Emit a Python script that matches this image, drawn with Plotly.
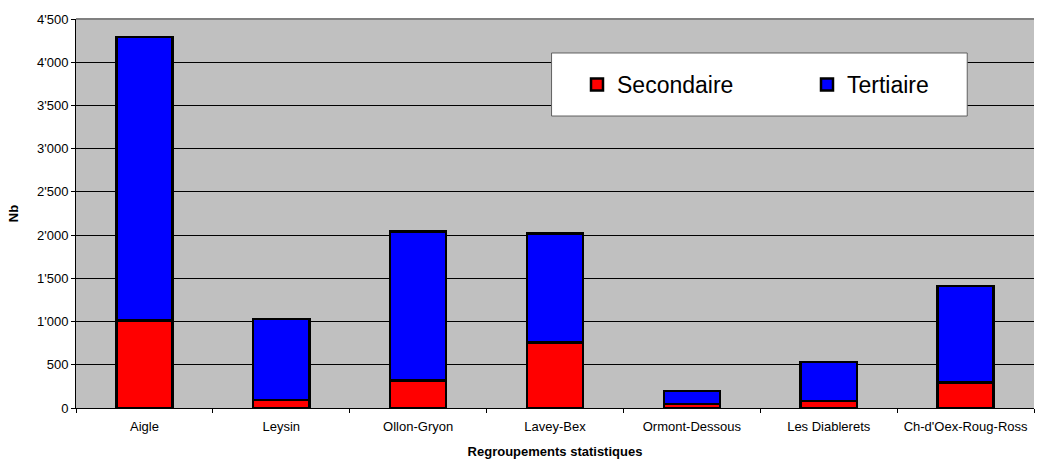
import plotly.graph_objects as go

categories = ["Aigle", "Leysin", "Ollon-Gryon", "Lavey-Bex", "Ormont-Dessous",
              "Les Diablerets", "Ch-d'Oex-Roug-Ross"]
secondaire = [1010, 90, 320, 760, 45, 80, 295]
tertiaire_total = [4290, 1030, 2040, 2020, 195, 535, 1410]
tertiaire = [t - s for t, s in zip(tertiaire_total, secondaire)]
y_ticks = [0, 500, 1000, 1500, 2000, 2500, 3000, 3500, 4000, 4500]

FONT = "Liberation Sans, Arial, sans-serif"

fig = go.Figure()
fig.add_trace(go.Bar(x=categories, y=secondaire, name="Secondaire",
                     marker=dict(color="#FF0000", line=dict(color="black", width=2.5))))
fig.add_trace(go.Bar(x=categories, y=tertiaire, name="Tertiaire",
                     marker=dict(color="#0000FF", line=dict(color="black", width=2.5))))

fig.update_layout(
    width=1037, height=459,
    margin=dict(l=76, r=0, t=19, b=51),
    barmode="stack", bargap=0.59,
    paper_bgcolor="white", plot_bgcolor="#C0C0C0",
    separators=".'",
    font=dict(family=FONT, size=13, color="black"),
    showlegend=True,
    legend=dict(orientation="h", x=0.523, xanchor="left", y=0.8316, yanchor="middle",
                bgcolor="rgba(0,0,0,0)", borderwidth=0,
                font=dict(size=23, family=FONT), entrywidth=185, entrywidthmode="pixels",
                traceorder="normal"),
    xaxis=dict(type="category", showline=True, linecolor="black", linewidth=1,
               ticks="outside", tickson="boundaries", ticklen=4, tickcolor="black",
               showgrid=False, ticklabelstandoff=6,
               title=dict(text="<b>Regroupements statistiques</b>", font=dict(size=13), standoff=15),
               tickfont=dict(size=13)),
    yaxis=dict(range=[0, 4500], tickvals=y_ticks, tickformat=",d",
               showline=True, linecolor="black", linewidth=1,
               ticks="outside", ticklen=4, tickcolor="black",
               showgrid=True, gridcolor="black", gridwidth=1, zeroline=False,
               title=dict(text="<b>Nb</b>", font=dict(size=13), standoff=15),
               tickfont=dict(size=13)),
    shapes=[
        dict(type="rect", xref="paper", yref="paper", x0=0.4964, x1=0.9303, y0=0.7506, y1=0.9126,
             fillcolor="white", line=dict(color="#606060", width=1), layer="above"),
        dict(type="line", xref="paper", yref="paper", x0=0, x1=1, y0=1, y1=1,
             line=dict(color="#808080", width=2), layer="above"),
    ],
)

fig.write_html("out.html", config={"displayModeBar": False},
               post_script="document.body.style.margin='0';document.body.style.overflow='hidden';")
